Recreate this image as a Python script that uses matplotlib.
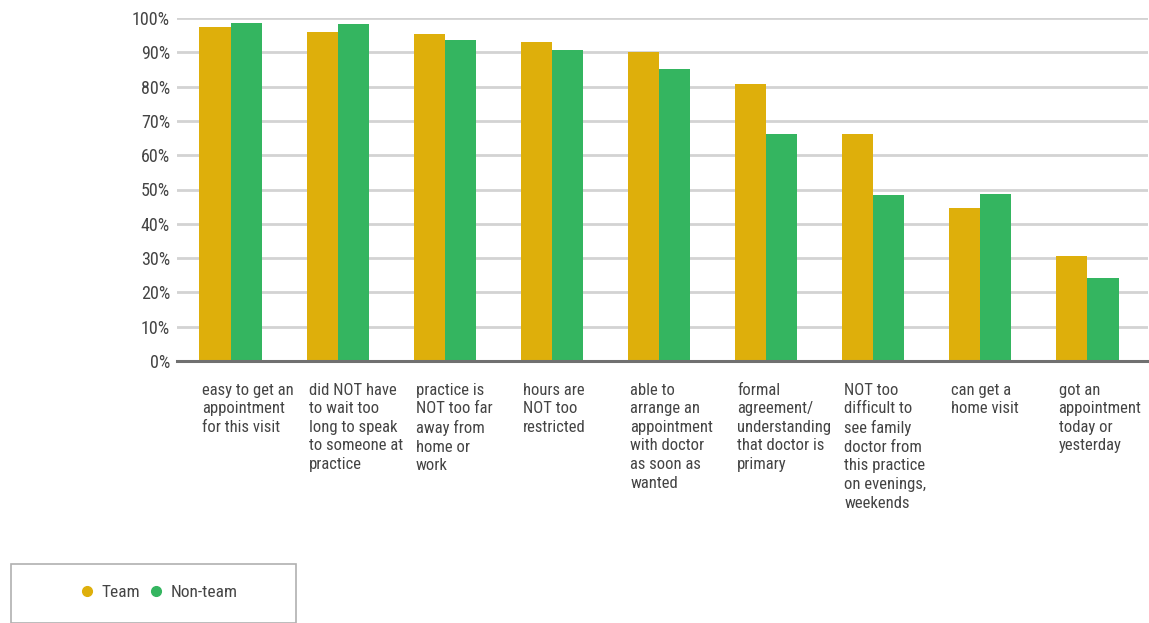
import matplotlib
matplotlib.use("Agg")
import matplotlib.pyplot as plt
from matplotlib.patches import Rectangle
from matplotlib.lines import Line2D
import numpy as np

categories = [
    "easy to get an\nappointment\nfor this visit",
    "did NOT have\nto wait too\nlong to speak\nto someone at\npractice",
    "practice is\nNOT too far\naway from\nhome or\nwork",
    "hours are\nNOT too\nrestricted",
    "able to\narrange an\nappointment\nwith doctor\nas soon as\nwanted",
    "formal\nagreement/\nunderstanding\nthat doctor is\nprimary",
    "NOT too\ndifficult to\nsee family\ndoctor from\nthis practice\non evenings,\nweekends",
    "can get a\nhome visit",
    "got an\nappointment\ntoday or\nyesterday",
]
team = [97.5, 95.9, 95.3, 93.0, 90.1, 80.8, 66.2, 44.6, 30.6]
non_team = [98.6, 98.3, 93.6, 90.7, 85.1, 66.2, 48.4, 48.7, 24.2]
series_names = ["Team", "Non-team"]
yticks = [0, 10, 20, 30, 40, 50, 60, 70, 80, 90, 100]

TEAM_C = "#DEAF0B"
NT_C = "#34B560"
TXT = "#444444"

plt.rcParams['font.family'] = ['Roboto Condensed', 'Archivo Narrow', 'Roboto', 'DejaVu Sans']

W, H = 1149, 623
fig = plt.figure(figsize=(W / 100, H / 100), dpi=100)
left, right, top, bottom = 177, 1148, 18, 361
ax = fig.add_axes([left / W, 1 - bottom / H, (right - left) / W, (bottom - top) / H])

x = np.arange(len(categories))
bw = 0.29
ax.bar(x - bw / 2, team, width=bw, color=TEAM_C, zorder=3)
ax.bar(x + bw / 2, non_team, width=bw, color=NT_C, zorder=3)

ax.set_ylim(0, 100)
ax.set_xlim(-0.5, len(categories) - 0.5 + 0.065)
ax.set_yticks(yticks)
ax.set_yticklabels([f"{v}%" for v in yticks], fontsize=13, color=TXT)
ax.tick_params(axis='y', length=0, pad=5)
ax.set_xticks([])
for v in yticks[1:]:
    ax.axhline(v, color="#d3d3d3", lw=2, zorder=1)
for s in ["top", "right", "left"]:
    ax.spines[s].set_visible(False)
ax.spines["bottom"].set_color("#707070")
ax.spines["bottom"].set_linewidth(2.2)
ax.spines["bottom"].set_zorder(4)

for i, lab in enumerate(categories):
    ax.text(i - bw + 0.02, -6.3, lab, ha="left", va="top", fontsize=12,
            color=TXT, linespacing=1.3, transform=ax.transData)

# legend box
fig.patches.append(Rectangle((11 / W, 0), (296 - 11) / W, (623 - 564) / H,
                             transform=fig.transFigure, fill=False,
                             edgecolor="#b0b0b0", lw=1.2))
handles = [Line2D([], [], marker="o", ls="", color=TEAM_C, markersize=7),
           Line2D([], [], marker="o", ls="", color=NT_C, markersize=7)]
fig.legend(handles, series_names, loc="center", bbox_to_anchor=(158 / W, 1 - 592 / H),
           ncol=2, frameon=False, fontsize=12.5, handletextpad=0.3, columnspacing=0.45,
           labelcolor=TXT, handlelength=1.0)

fig.savefig("out.png", dpi=100)
